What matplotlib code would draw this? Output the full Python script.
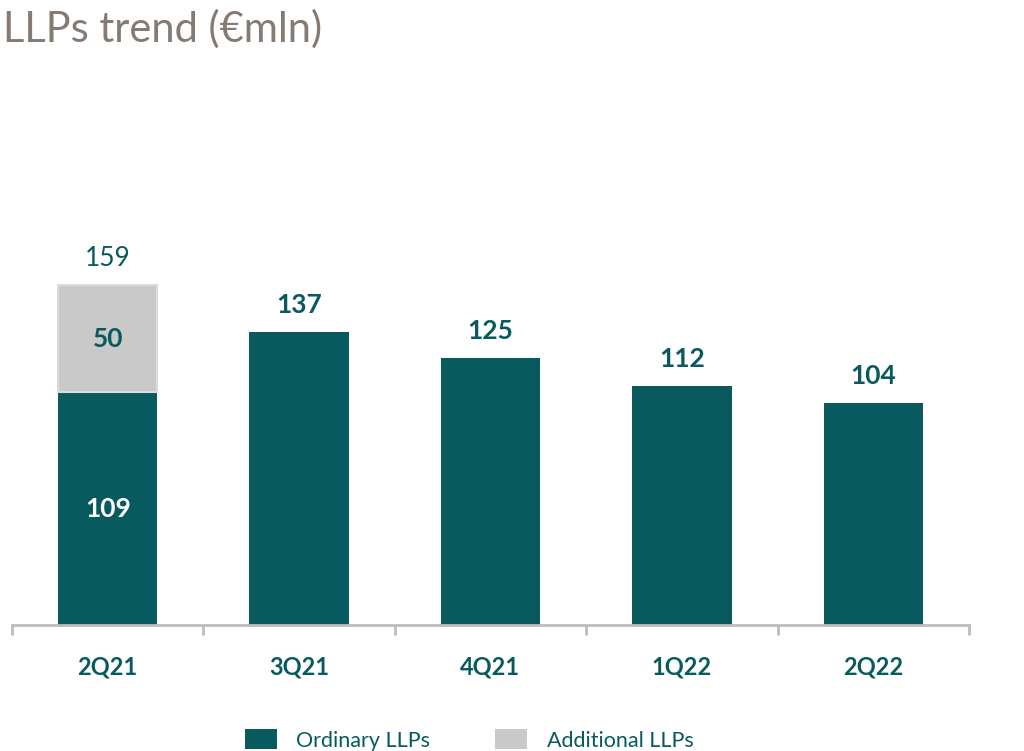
import matplotlib
matplotlib.use("Agg")
import matplotlib.pyplot as plt
from matplotlib.patches import Patch

categories = ["2Q21", "3Q21", "4Q21", "1Q22", "2Q22"]
ordinary = [109, 137, 125, 112, 104]
additional = [50, 0, 0, 0, 0]
totals = [159, 137, 125, 112, 104]

TEAL = "#085a5e"
GRAY = "#c9c9c9"
TITLE_C = "#867b73"

plt.rcParams['font.family'] = ['Lato', 'DejaVu Sans']

fig = plt.figure(figsize=(10.24, 7.51), dpi=100)
ax = fig.add_axes([12/1024, 126/751, 957/1024, 545/751])

x = list(range(len(categories)))
w = 0.52
ax.bar(x, ordinary, width=w, color=TEAL, zorder=2)
add_idx = [i for i, a in enumerate(additional) if a > 0]
ax.bar(add_idx, [additional[i] for i in add_idx], width=w, bottom=[ordinary[i] for i in add_idx],
       color=GRAY, edgecolor="#dcdcdc", linewidth=1.5, zorder=2)

ax.set_xlim(-0.5, 4.5)
ax.set_ylim(0, 255)

for s in ["top", "right", "left"]:
    ax.spines[s].set_visible(False)
ax.spines["bottom"].set_color("#bdbdbd")
ax.spines["bottom"].set_linewidth(2)
ax.set_yticks([])

ax.set_xticks(x)
ax.set_xticklabels(categories, fontsize=17, fontweight="bold", color=TEAL)
ax.tick_params(axis="x", which="major", length=0, pad=22)
ax.set_xticks([i - 0.5 for i in range(len(categories) + 1)], minor=True)
ax.tick_params(axis="x", which="minor", length=7, width=2, color="#bdbdbd", direction="out")

# labels
for i, (o, a, t) in enumerate(zip(ordinary, additional, totals)):
    if a > 0:
        ax.text(i, o / 2, str(o), ha="center", va="center", fontsize=19, fontweight="bold", color="white")
        ax.text(i, o + a / 2, str(a), ha="center", va="center", fontsize=19, fontweight="bold", color=TEAL)
        ax.text(i, t + 6.5, str(t), ha="center", va="bottom", fontsize=19, color=TEAL)
    else:
        ax.text(i, t + 7, str(t), ha="center", va="bottom", fontsize=19, fontweight="bold", color=TEAL)

fig.text(0.003, 0.962, "LLPs trend (€mln)", fontsize=30, color=TITLE_C, ha="left", va="center")

handles = [Patch(facecolor=TEAL, label="Ordinary LLPs"), Patch(facecolor=GRAY, label="Additional LLPs")]
fig.legend(handles=handles, loc="center", bbox_to_anchor=(469/1024, 1 - 740/751), ncol=2, frameon=False,
           fontsize=15.5, labelcolor=TEAL, handlelength=1.5, handleheight=1.0, columnspacing=3.0, handletextpad=0.9)

fig.savefig("out.png", dpi=100)
